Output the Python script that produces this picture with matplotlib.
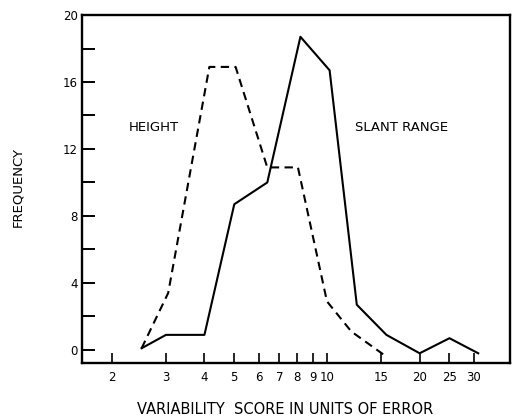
import matplotlib
matplotlib.use('Agg')
import matplotlib.pyplot as plt

# Distribuições de frequência dos escores de variabilidade
height_x = [2.5, 3.05, 4.15, 5.05, 6.4, 8.05, 10.0, 12.0, 15.6]
height_y = [0.1, 3.4, 16.9, 16.9, 10.9, 10.9, 2.9, 1.1, -0.4]

slant_x = [2.5, 3.0, 4.0, 5.0, 6.4, 8.2, 10.2, 12.5, 15.6, 20.0, 25.0, 31.0]
slant_y = [0.1, 0.9, 0.9, 8.7, 10.0, 18.7, 16.7, 2.7, 0.9, -0.2, 0.7, -0.2]

x_ticks = [2, 3, 4, 5, 6, 7, 8, 9, 10, 15, 20, 25, 30]
y_ticks = [0, 2, 4, 6, 8, 10, 12, 14, 16, 18, 20]
y_labels = ['0', '', '4', '', '8', '', '12', '', '16', '', '20']

fig = plt.figure(figsize=(5.12, 4.17), dpi=100)
ax = fig.add_axes([0.160, 0.1295, 0.836, 0.8345])

ax.plot(height_x, height_y, color='k', lw=1.5, linestyle=(0, (4, 2.6)))
ax.plot(slant_x, slant_y, color='k', lw=1.5)

ax.set_xscale('log')
ax.set_xlim(1.60, 39.3)
ax.set_ylim(-0.78, 20)

ax.set_xticks(x_ticks)
ax.set_xticklabels([str(t) for t in x_ticks])
ax.minorticks_off()
ax.set_yticks(y_ticks)
ax.set_yticklabels(y_labels)

ax.tick_params(axis='x', direction='in', length=7, width=1.2, pad=6, labelsize=8.5)
ax.tick_params(axis='y', direction='in', length=9, width=1.4, pad=3, labelsize=8.5)

for s in ax.spines.values():
    s.set_linewidth(1.7)

ax.text(2.74, 13.3, 'HEIGHT', fontsize=9.5, ha='center', va='center')
ax.text(17.5, 13.3, 'SLANT RANGE', fontsize=9.5, ha='center', va='center')

fig.text(285 / 512, 1 - 410 / 417, 'VARIABILITY  SCORE IN UNITS OF ERROR',
         fontsize=10.5, ha='center', va='center')
fig.text(18 / 512, 1 - 187 / 417, 'FREQUENCY', fontsize=9.5, rotation=90,
         ha='center', va='center')

plt.savefig('out.png', dpi=100)
